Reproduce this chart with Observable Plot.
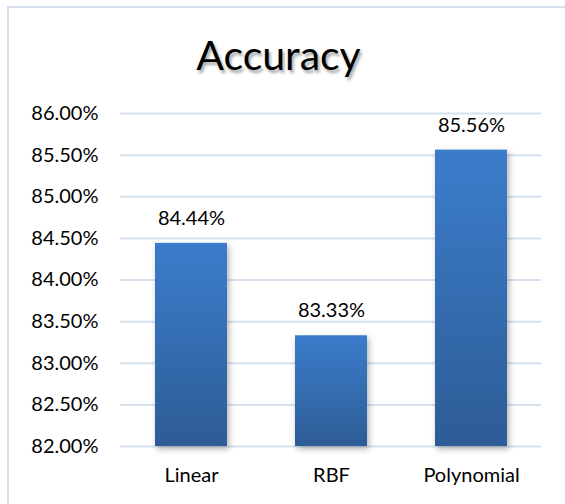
<!DOCTYPE html>
<html>
<head>
<meta charset="utf-8">
<script src="https://cdn.jsdelivr.net/npm/d3@7"></script>
<script src="https://cdn.jsdelivr.net/npm/@observablehq/plot@0.6"></script>
<style>
  html, body { margin: 0; padding: 0; background: #fff; }
  #wrap { position: relative; width: 565px; height: 504px; overflow: hidden; font-family: Lato, "Open Sans", sans-serif; }
  #frame { position: absolute; left: 7px; top: 6px; width: 600px; height: 600px; border-left: 2px solid #d7e2f1; border-top: 2px solid #d7e2f1; box-sizing: border-box; }
  #title { position: absolute; left: 0; width: 557px; top: 34px; text-align: center; font-size: 41px; color: #000; text-shadow: 2px 3px 3px rgba(0,0,0,0.35); line-height: 1; }
  #chart { position: absolute; left: 0; top: 0; }
  #chart svg { overflow: visible; }
  #chart g[aria-label="bar"] rect { filter: drop-shadow(2px 3px 3px rgba(0,0,0,0.3)); }
</style>
</head>
<body>
<div id="wrap">
  <div id="frame"></div>
  <div id="title">Accuracy</div>
  <div id="chart"></div>
</div>
<script>
const categories = ["Linear", "RBF", "Polynomial"];
const accuracy = [84.44, 83.33, 85.56];
const yTicks = [82, 82.5, 83, 83.5, 84, 84.5, 85, 85.5, 86];

const data = categories.map((c, i) => ({category: c, value: accuracy[i]}));
const fmt = d => d.toFixed(2) + "%";

const plot = Plot.plot({
  width: 565,
  height: 504,
  marginLeft: 120,
  marginRight: 24,
  marginTop: 113,
  marginBottom: 58,
  style: {fontFamily: "Lato, 'Open Sans', sans-serif", fontSize: "20px", color: "#000", background: "transparent"},
  x: {domain: categories, paddingInner: 0.487, paddingOuter: 0.2435, label: null, tickSize: 0, tickPadding: 21},
  y: {domain: [82, 86], ticks: yTicks, tickFormat: fmt, label: null, tickSize: 0, tickPadding: 22},
  marks: [
    Plot.ruleY(yTicks, {stroke: "#d6e1f0", strokeWidth: 2}),
    Plot.barY(data, {x: "category", y1: 82, y2: "value", fill: "url(#barGrad)"}),
    Plot.text(data, {x: "category", y: "value", text: d => fmt(d.value), dy: -25, fontSize: 20, fill: "#000"})
  ]
});

const ns = "http://www.w3.org/2000/svg";
const defs = document.createElementNS(ns, "defs");
const grad = document.createElementNS(ns, "linearGradient");
grad.setAttribute("id", "barGrad");
grad.setAttribute("x1", "0"); grad.setAttribute("y1", "0");
grad.setAttribute("x2", "0"); grad.setAttribute("y2", "1");
[["0%", "#3b7dcb"], ["100%", "#2d5c96"]].forEach(([o, c]) => {
  const s = document.createElementNS(ns, "stop");
  s.setAttribute("offset", o); s.setAttribute("stop-color", c);
  grad.appendChild(s);
});
defs.appendChild(grad);
plot.insertBefore(defs, plot.firstChild);

document.getElementById("chart").appendChild(plot);
</script>
</body>
</html>
